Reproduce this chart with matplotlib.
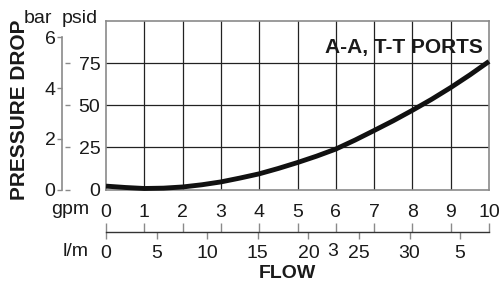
import matplotlib
matplotlib.use("Agg")
import matplotlib.pyplot as plt

plt.rcParams['font.family'] = ['Liberation Sans', 'DejaVu Sans']

# curve: pressure drop (psid) vs flow (gpm)
flow_gpm = [0, 0.5, 1, 1.5, 2, 2.5, 3, 3.5, 4, 4.5, 5, 5.5, 6, 6.5, 7, 7.5, 8, 8.5, 9, 9.5, 10]
drop_psid = [2, 1.2, 0.6, 0.8, 1.5, 2.8, 4.5, 6.8, 9.3, 12.5, 16, 19.8, 24, 29.3, 35, 40.8, 47, 53.5, 60.5, 68, 76]

psid_ticks = [0, 25, 50, 75]
bar_ticks = [0, 2, 4, 6]
gpm_ticks = list(range(0, 11))
lpm_ticks = [0, 5, 10, 15, 20, 25, 30, 35]
lpm_labels = ['0', '5', '10', '15', '20', '25', '30', '5']
LPM_PER_GPM = 3.785

W, H = 499, 284
PT = 0.72  # points per pixel at dpi 100
fig = plt.figure(figsize=(W / 100, H / 100), dpi=100)

def rect(x0, y0, x1, y1):
    return [x0 / W, 1 - y1 / H, (x1 - x0) / W, (y1 - y0) / H]

txt = '#1a1a1a'
grey = '#8a8a8a'
fs = 14

# main plot
ax = fig.add_axes(rect(106, 21, 489, 189.5))
ax.set_xlim(0, 10)
ax.set_ylim(0, 100)
for g in gpm_ticks[1:-1]:
    ax.axvline(g, color='#222222', lw=0.9, zorder=1)
for p in psid_ticks[1:]:
    ax.axhline(p, color='#222222', lw=0.9, zorder=1)
ax.plot(flow_gpm, drop_psid, color='#111111', lw=3.5, solid_capstyle='butt', zorder=3, clip_on=False)
for s in ax.spines.values():
    s.set_color(grey)
    s.set_linewidth(1.2)
ax.set_xticks([])
ax.set_yticks(psid_ticks)
ax.set_yticklabels([str(p) for p in psid_ticks], fontsize=fs, color=txt)
ax.tick_params(axis='y', length=0, pad=4)

# psid dashes
ax3 = fig.add_axes(rect(106, 21, 489, 189.5))
ax3.patch.set_visible(False)
ax3.set_xlim(0, 10)
ax3.set_ylim(0, 100)
for s in ax3.spines.values():
    s.set_visible(False)
ax3.spines['left'].set_position(('outward', 36 * PT))
ax3.set_xticks([])
ax3.set_yticks(psid_ticks)
ax3.tick_params(axis='y', length=5 * PT, width=1.0, color=grey, labelleft=False)

# bar axis
ax2 = fig.add_axes(rect(106, 21, 489, 189.5))
ax2.patch.set_visible(False)
ax2.set_xlim(0, 10)
ax2.set_ylim(0, 6.65)
for s in ax2.spines.values():
    s.set_visible(False)
ax2.spines['left'].set_visible(True)
ax2.spines['left'].set_position(('outward', 44 * PT))
ax2.spines['left'].set_bounds(0, 6)
ax2.spines['left'].set_color(grey)
ax2.spines['left'].set_linewidth(1.2)
ax2.set_xticks([])
ax2.set_yticks(bar_ticks)
ax2.set_yticklabels([str(b) for b in bar_ticks], fontsize=fs, color=txt)
ax2.tick_params(axis='y', length=5 * PT, width=1.0, color=grey, pad=1)

# flow scale (gpm above, l/m below)
ax4 = fig.add_axes(rect(106, 232, 489, 232.01))
ax4.patch.set_visible(False)
ax4.set_xlim(0, 10)
ax4.set_yticks([])
for s in ax4.spines.values():
    s.set_visible(False)
ax4.spines['bottom'].set_visible(True)
ax4.spines['bottom'].set_color('#333333')
ax4.spines['bottom'].set_linewidth(1.0)
ax4.set_xticks([l / LPM_PER_GPM for l in lpm_ticks])
ax4.set_xticklabels(lpm_labels, fontsize=fs, color=txt)
ax4.tick_params(axis='x', which='major', bottom=True, top=False, direction='out',
                length=7 * PT, width=1.0, color=grey, pad=4)
top = ax4.secondary_xaxis('top')
top.set_xticks(gpm_ticks)
top.set_xticklabels([str(g) for g in gpm_ticks], fontsize=fs, color=txt)
top.tick_params(axis='x', direction='out', length=9 * PT, width=1.0, color=grey, pad=1.5)
top.spines['top'].set_visible(False)

# labels
fig.text(333 / W, 1 - 252 / H, '3', fontsize=fs, color=txt, ha='center', va='center')
fig.text(89 / W, 1 - 210 / H, 'gpm', fontsize=fs, color=txt, ha='right', va='center')
fig.text(89 / W, 1 - 252 / H, 'l/m', fontsize=fs, color=txt, ha='right', va='center')
fig.text(287 / W, 1 - 273 / H, 'FLOW', fontsize=14, color=txt, ha='center', va='center',
         fontweight='bold')
fig.text(20 / W, 1 - 110 / H, 'PRESSURE DROP', fontsize=15, color=txt, ha='center', va='center',
         rotation=90, fontweight='bold')
fig.text(24 / W, 1 - 23 / H, 'bar', fontsize=fs, color=txt, ha='left', va='baseline')
fig.text(62 / W, 1 - 23 / H, 'psid', fontsize=fs, color=txt, ha='left', va='baseline')
fig.text(483 / W, 1 - 48 / H, 'A-A, T-T PORTS', fontsize=15, color=txt, ha='right', va='center',
         fontweight='bold')

fig.savefig('out.png', dpi=100)
